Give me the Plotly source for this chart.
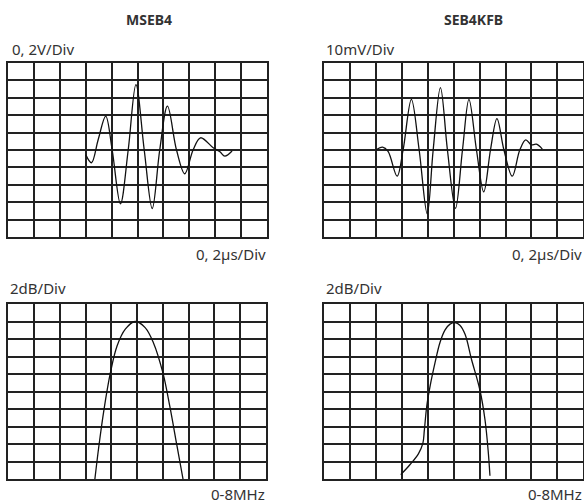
import plotly.graph_objects as go

W, H = 584, 503

# ---- data (in grid divisions, 0..10) ----
titles = ["MSEB4", "SEB4KFB"]
y_labels = ["0, 2V/Div", "10mV/Div", "2dB/Div", "2dB/Div"]
x_labels = ["0, 2µs/Div", "0, 2µs/Div", "0-8MHz", "0-8MHz"]

wave1_x = [3.0, 3.22, 3.48, 3.77, 4.02, 4.34, 4.64, 4.94, 5.26, 5.57, 5.86, 6.16, 6.51, 6.83, 7.15, 7.44, 7.93, 8.19, 8.38, 8.66]
wave1_y = [4.72, 4.27, 5.6, 6.94, 5.0, 1.92, 5.0, 8.75, 5.0, 1.65, 5.0, 7.51, 5.0, 3.64, 5.0, 5.70, 5.13, 4.9, 4.65, 4.94]

wave2_x = [2.0, 2.26, 2.47, 2.82, 3.05, 3.37, 3.67, 3.98, 4.21, 4.49, 4.76, 5.07, 5.34, 5.59, 5.88, 6.16, 6.42, 6.67, 6.94, 7.26, 7.55, 7.78, 7.99, 8.19, 8.42]
wave2_y = [5.0, 5.16, 4.92, 3.5, 5.0, 7.9, 5.0, 1.35, 5.0, 8.57, 5.0, 1.66, 5.0, 7.9, 5.0, 2.6, 5.0, 6.8, 5.0, 3.5, 5.0, 5.58, 5.3, 5.33, 5.05]

spec1_x = [3.36, 3.51, 3.71, 3.96, 4.22, 4.54, 4.92, 5.31, 5.63, 6.0, 6.27, 6.53, 6.78]
spec1_y = [0, 1.83, 3.94, 6.06, 7.6, 8.56, 9.0, 8.65, 7.79, 6.06, 4.13, 2.02, 0]

spec2_x = [2.96, 3.32, 3.64, 3.81, 3.87, 3.96, 4.09, 4.28, 4.47, 4.67, 4.86, 5.05, 5.24, 5.44, 5.69, 6.01, 6.21, 6.33, 6.4]
spec2_y = [0.25, 0.83, 1.44, 2.02, 2.79, 4.13, 5.29, 6.63, 7.79, 8.52, 8.85, 8.94, 8.79, 8.27, 6.83, 5.1, 3.37, 1.63, 0.19]

series = [(wave1_x, wave1_y), (wave2_x, wave2_y), (spec1_x, spec1_y), (spec2_x, spec2_y)]

# ---- layout geometry (pixels) ----
panel_px = [  # x0, x1, ytop, ybottom
    (8.3, 266.7, 62.7, 237.3),
    (324.0, 583.3, 62.7, 237.3),
    (8.3, 266.0, 304.0, 479.0),
    (324.0, 583.3, 304.0, 479.0),
]

GRID = "#222222"
TEXT = "#333333"
FONT = "Noto Sans"

fig = go.Figure()
layout = dict(
    width=W, height=H,
    margin=dict(l=0, r=0, t=0, b=0),
    paper_bgcolor="white", plot_bgcolor="white",
    showlegend=False,
    annotations=[],
)

for i, ((x0, x1, yt, yb), (sx, sy)) in enumerate(zip(panel_px, series)):
    n = "" if i == 0 else str(i + 1)
    ax = dict(
        domain=[x0 / W, x1 / W], range=[0, 10],
        tickvals=list(range(11)), showticklabels=False, ticks="",
        showgrid=True, gridcolor=GRID, gridwidth=1.5,
        showline=True, linecolor=GRID, linewidth=1.5, mirror=True,
        zeroline=False, fixedrange=True,
    )
    ay = dict(ax)
    ay["domain"] = [1 - yb / H, 1 - yt / H]
    ax["anchor"] = "y" + n
    ay["anchor"] = "x" + n
    layout["xaxis" + n] = ax
    layout["yaxis" + n] = ay
    fig.add_trace(go.Scatter(
        x=sx, y=sy, mode="lines", xaxis="x" + n, yaxis="y" + n,
        line=dict(color="#111111", width=1.3, shape="spline", smoothing=1.0),
        hoverinfo="skip",
    ))

def ann(text, px, py, xanchor, size=15, bold=False):
    return dict(
        text=f"<b>{text}</b>" if bold else text,
        x=px / W, y=1 - py / H, xref="paper", yref="paper",
        xanchor=xanchor, yanchor="middle", showarrow=False,
        font=dict(family=FONT, size=size, color=TEXT),
    )

anns = [
    ann(titles[0], 148.5, 19, "center", size=14, bold=True),
    ann(titles[1], 473, 20, "center", size=14, bold=True),
    ann(y_labels[0], 10, 49, "left"),
    ann(y_labels[1], 324, 49, "left"),
    ann(y_labels[2], 8, 288, "left"),
    ann(y_labels[3], 324, 288, "left"),
    ann(x_labels[0], 268, 254, "right"),
    ann(x_labels[1], 584, 254, "right"),
    ann(x_labels[2], 267, 494, "right"),
    ann(x_labels[3], 584, 494, "right"),
]
layout["annotations"] = anns
fig.update_layout(**layout)

fig.write_html("out.html")
